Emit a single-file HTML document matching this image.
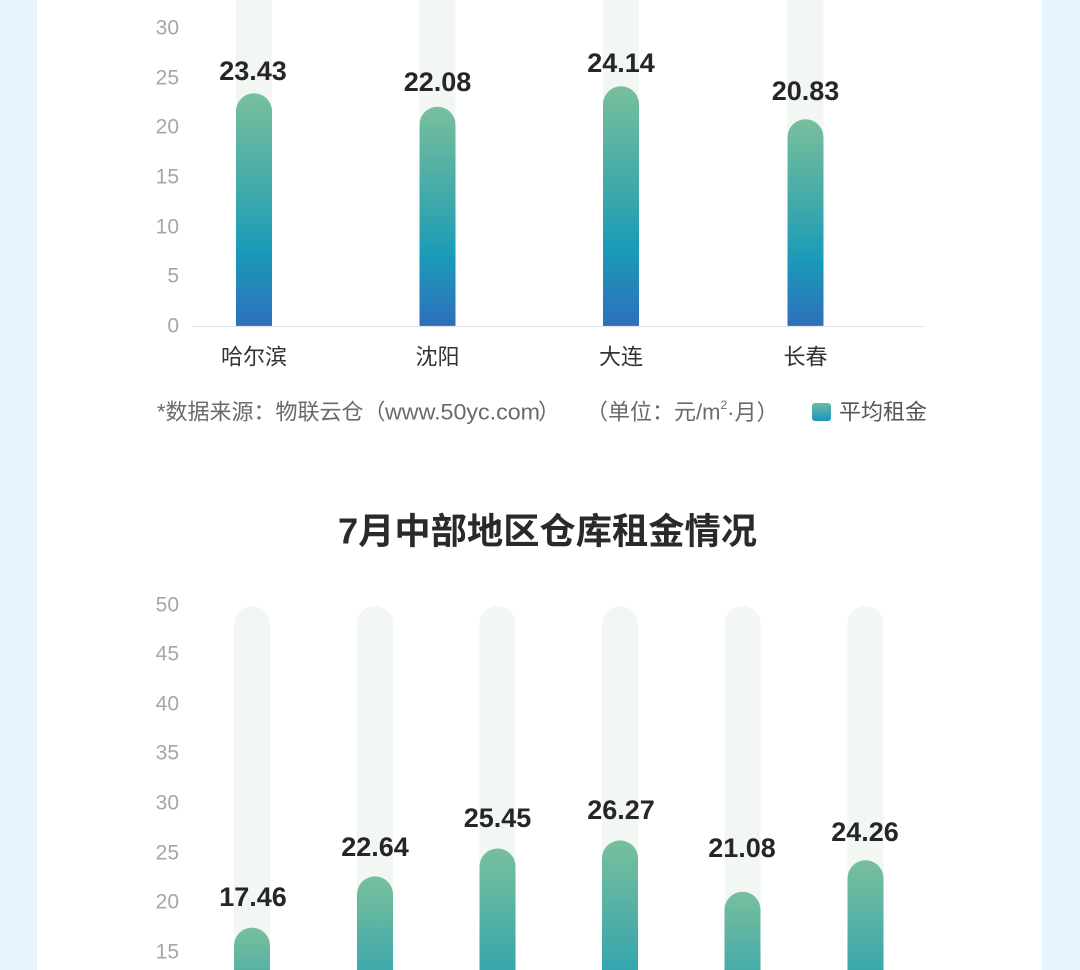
<!DOCTYPE html>
<html>
<head>
<meta charset="utf-8">
<style>
  html,body{margin:0;padding:0;background:#fff;}
  body{width:1080px;height:970px;overflow:hidden;position:relative;}
  svg{display:block;}
  text{font-family:"Liberation Sans","Noto Sans CJK SC",sans-serif;}
</style>
</head>
<body>
<svg width="1080" height="970" viewBox="0 0 1080 970" xmlns="http://www.w3.org/2000/svg">
  <defs>
    <linearGradient id="g" x1="0" y1="0" x2="0" y2="1">
      <stop offset="0" stop-color="#78bf9c"/>
      <stop offset="0.42" stop-color="#40a9aa"/>
      <stop offset="0.68" stop-color="#1a9bb8"/>
      <stop offset="1" stop-color="#2e6fbb"/>
    </linearGradient>
    <linearGradient id="b1" gradientUnits="userSpaceOnUse" x1="0" y1="927.6" x2="0" y2="1100.5">
      <stop offset="0" stop-color="#78bf9c"/><stop offset="0.42" stop-color="#40a9aa"/><stop offset="0.68" stop-color="#1a9bb8"/><stop offset="1" stop-color="#2e6fbb"/>
    </linearGradient>
    <linearGradient id="b2" gradientUnits="userSpaceOnUse" x1="0" y1="876.4" x2="0" y2="1100.5">
      <stop offset="0" stop-color="#78bf9c"/><stop offset="0.42" stop-color="#40a9aa"/><stop offset="0.68" stop-color="#1a9bb8"/><stop offset="1" stop-color="#2e6fbb"/>
    </linearGradient>
    <linearGradient id="b3" gradientUnits="userSpaceOnUse" x1="0" y1="848.5" x2="0" y2="1100.5">
      <stop offset="0" stop-color="#78bf9c"/><stop offset="0.42" stop-color="#40a9aa"/><stop offset="0.68" stop-color="#1a9bb8"/><stop offset="1" stop-color="#2e6fbb"/>
    </linearGradient>
    <linearGradient id="b4" gradientUnits="userSpaceOnUse" x1="0" y1="840.4" x2="0" y2="1100.5">
      <stop offset="0" stop-color="#78bf9c"/><stop offset="0.42" stop-color="#40a9aa"/><stop offset="0.68" stop-color="#1a9bb8"/><stop offset="1" stop-color="#2e6fbb"/>
    </linearGradient>
    <linearGradient id="b5" gradientUnits="userSpaceOnUse" x1="0" y1="891.8" x2="0" y2="1100.5">
      <stop offset="0" stop-color="#78bf9c"/><stop offset="0.42" stop-color="#40a9aa"/><stop offset="0.68" stop-color="#1a9bb8"/><stop offset="1" stop-color="#2e6fbb"/>
    </linearGradient>
    <linearGradient id="b6" gradientUnits="userSpaceOnUse" x1="0" y1="860.3" x2="0" y2="1100.5">
      <stop offset="0" stop-color="#78bf9c"/><stop offset="0.42" stop-color="#40a9aa"/><stop offset="0.68" stop-color="#1a9bb8"/><stop offset="1" stop-color="#2e6fbb"/>
    </linearGradient>
    <linearGradient id="lg" x1="0" y1="0" x2="0" y2="1">
      <stop offset="0" stop-color="#6cbb9f"/>
      <stop offset="1" stop-color="#1a95bd"/>
    </linearGradient>
  </defs>

  <!-- side strips -->
  <rect x="0" y="0" width="37" height="970" fill="#e8f4fd"/>
  <rect x="1042" y="0" width="38" height="970" fill="#e8f4fd"/>

  <!-- ===== Top chart ===== -->
  <g fill="#f2f7f4">
    <rect x="236" y="0" width="36" height="326"/>
    <rect x="419.5" y="0" width="36" height="326"/>
    <rect x="603" y="0" width="36" height="326"/>
    <rect x="787.5" y="0" width="36" height="326"/>
  </g>
  <g fill="url(#g)">
    <path d="M236,326 V111.3 A18,18 0 0 1 272,111.3 V326 Z"/>
    <path d="M419.5,326 V124.7 A18,18 0 0 1 455.5,124.7 V326 Z"/>
    <path d="M603,326 V104.3 A18,18 0 0 1 639,104.3 V326 Z"/>
    <path d="M787.5,326 V137.2 A18,18 0 0 1 823.5,137.2 V326 Z"/>
  </g>
  <line x1="192" y1="326.5" x2="924" y2="326.5" stroke="#e1e4e9" stroke-width="1.2"/>

  <g font-size="21" fill="#a6a6a6" text-anchor="end" dominant-baseline="central">
    <text x="179" y="28">30</text>
    <text x="179" y="78">25</text>
    <text x="179" y="127">20</text>
    <text x="179" y="177">15</text>
    <text x="179" y="227">10</text>
    <text x="179" y="276">5</text>
    <text x="179" y="326">0</text>
  </g>

  <g font-size="27" font-weight="bold" fill="#262626" text-anchor="middle" dominant-baseline="central">
    <text x="253" y="71">23.43</text>
    <text x="437.5" y="82">22.08</text>
    <text x="621" y="63">24.14</text>
    <text x="805.5" y="91">20.83</text>
  </g>

  <g font-size="22" fill="#333" text-anchor="middle" dominant-baseline="central">
    <text x="254" y="357">哈尔滨</text>
    <text x="437.5" y="357">沈阳</text>
    <text x="621" y="357">大连</text>
    <text x="805.5" y="357">长春</text>
  </g>

  <g font-size="22" fill="#6a6a6a" dominant-baseline="central">
    <text x="157" y="412">*数据来源：物联云仓（</text>
    <text x="385" y="412" textLength="155" lengthAdjust="spacingAndGlyphs">www.50yc.com</text>
    <text x="538" y="412">）</text>
    <text x="586" y="412">（单位：元/m<tspan font-size="12" dy="-7">2</tspan><tspan dy="7">·月）</tspan></text>
  </g>
  <rect x="812" y="403" width="19" height="18" rx="3" fill="url(#lg)"/>
  <text x="839" y="412" font-size="22" fill="#555" dominant-baseline="central">平均租金</text>

  <!-- ===== Title ===== -->
  <text x="338" y="531" font-size="36" font-weight="bold" fill="#2a2a2a" dominant-baseline="central" textLength="419" lengthAdjust="spacingAndGlyphs">7月中部地区仓库租金情况</text>

  <!-- ===== Bottom chart ===== -->
  <g fill="#f2f7f4">
    <path d="M234,970 V624 A18,18 0 0 1 270,624 V970 Z"/>
    <path d="M357,970 V624 A18,18 0 0 1 393,624 V970 Z"/>
    <path d="M479.5,970 V624 A18,18 0 0 1 515.5,624 V970 Z"/>
    <path d="M602,970 V624 A18,18 0 0 1 638,624 V970 Z"/>
    <path d="M724.5,970 V624 A18,18 0 0 1 760.5,624 V970 Z"/>
    <path d="M847.5,970 V624 A18,18 0 0 1 883.5,624 V970 Z"/>
  </g>
  <path fill="url(#b1)" d="M234,970 V945.6 A18,18 0 0 1 270,945.6 V970 Z"/>
  <path fill="url(#b2)" d="M357,970 V894.4 A18,18 0 0 1 393,894.4 V970 Z"/>
  <path fill="url(#b3)" d="M479.5,970 V866.5 A18,18 0 0 1 515.5,866.5 V970 Z"/>
  <path fill="url(#b4)" d="M602,970 V858.4 A18,18 0 0 1 638,858.4 V970 Z"/>
  <path fill="url(#b5)" d="M724.5,970 V909.8 A18,18 0 0 1 760.5,909.8 V970 Z"/>
  <path fill="url(#b6)" d="M847.5,970 V878.3 A18,18 0 0 1 883.5,878.3 V970 Z"/>

  <g font-size="21" fill="#a6a6a6" text-anchor="end" dominant-baseline="central">
    <text x="179" y="605">50</text>
    <text x="179" y="654">45</text>
    <text x="179" y="704">40</text>
    <text x="179" y="753">35</text>
    <text x="179" y="803">30</text>
    <text x="179" y="853">25</text>
    <text x="179" y="902">20</text>
    <text x="179" y="952">15</text>
  </g>

  <g font-size="27" font-weight="bold" fill="#262626" text-anchor="middle" dominant-baseline="central">
    <text x="253" y="897">17.46</text>
    <text x="375" y="847">22.64</text>
    <text x="497.5" y="818">25.45</text>
    <text x="621" y="810">26.27</text>
    <text x="742" y="848">21.08</text>
    <text x="865" y="832">24.26</text>
  </g>
</svg>
</body>
</html>
